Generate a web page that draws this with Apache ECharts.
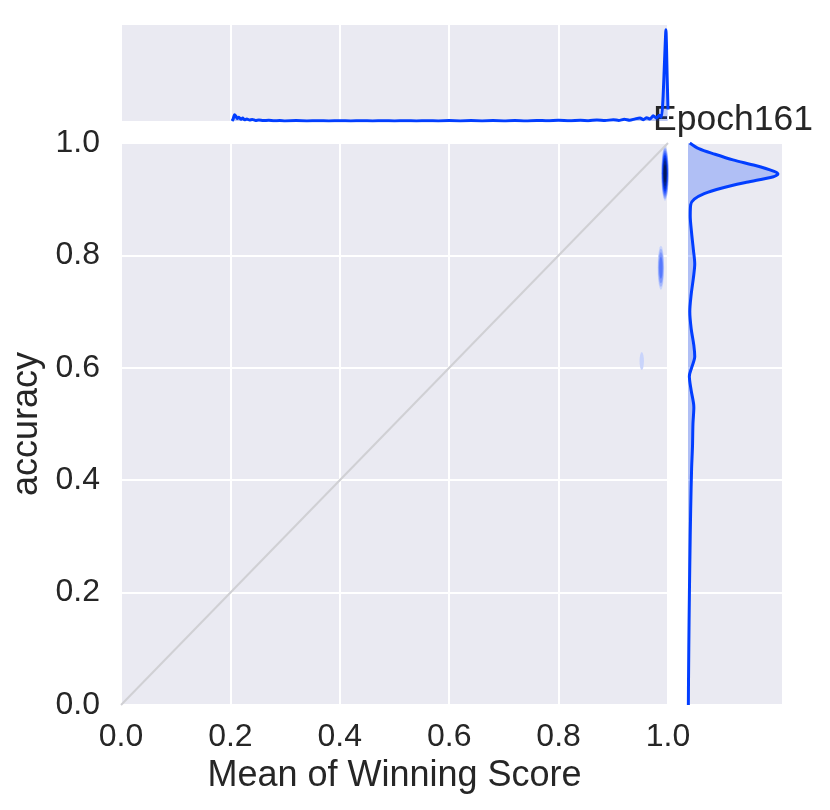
<!DOCTYPE html>
<html>
<head>
<meta charset="utf-8">
<script src="https://cdn.jsdelivr.net/npm/echarts@6/dist/echarts.min.js"></script>
<style>
  html, body { margin: 0; padding: 0; background: #fff; }
  #chart { width: 830px; height: 810px; }
</style>
</head>
<body>
<div id="chart"></div>
<script>
// top marginal: density of mean winning score
const topScore = [0.203, 0.205, 0.2075, 0.21, 0.2125, 0.2155, 0.219, 0.2225, 0.226, 0.23, 0.235, 0.24, 0.246, 0.252,
  0.26, 0.27, 0.28, 0.29, 0.30, 0.32, 0.34, 0.36, 0.38, 0.40, 0.42, 0.44, 0.46, 0.48, 0.50, 0.52, 0.54, 0.56,
  0.58, 0.60, 0.62, 0.64, 0.66, 0.68, 0.70, 0.72, 0.74, 0.76, 0.78, 0.80, 0.82, 0.84, 0.855, 0.87, 0.885,
  0.90, 0.91, 0.92, 0.93, 0.94, 0.949, 0.955, 0.961, 0.967, 0.973, 0.979, 0.984, 0.988, 0.991, 0.9935,
  0.9962, 0.9985, 1.0];
const topDensity = [0, 0.02, 0.065, 0.05, 0.025, 0.04, 0.018, 0.03, 0.013, 0.022, 0.01, 0.016, 0.006, 0.01,
  0.004, 0.007, 0.002, 0.005, 0.001, 0.004, 0.001, 0.003, 0.0, 0.003, 0.0, 0.003, 0.0, 0.003, 0.0, 0.003,
  0.0, 0.003, 0.001, 0.004, 0.001, 0.004, 0.001, 0.004, 0.001, 0.005, 0.001, 0.006, 0.002, 0.007, 0.002, 0.009,
  0.003, 0.011, 0.004, 0.014, 0.006, 0.018, 0.008, 0.022, 0.03, 0.014, 0.035, 0.02, 0.055, 0.03, 0.06, 0.04,
  0.25, 0.6, 0.95, 0.45, 0.12];

// right marginal: density of accuracy
const rightAcc = [1.0, 0.99, 0.98, 0.97, 0.96, 0.95, 0.945, 0.94, 0.93, 0.92, 0.91, 0.90, 0.89, 0.87, 0.84,
  0.81, 0.785, 0.76, 0.73, 0.70, 0.67, 0.64, 0.62, 0.60, 0.585, 0.56, 0.53, 0.50, 0.46, 0.42, 0.35, 0.25,
  0.15, 0.05, 0.0];
const rightDensity = [0.02, 0.12, 0.3, 0.5, 0.75, 0.95, 1.0, 0.95, 0.65, 0.38, 0.18, 0.07, 0.03, 0.025, 0.04,
  0.06, 0.075, 0.06, 0.035, 0.02, 0.035, 0.065, 0.075, 0.04, 0.015, 0.035, 0.065, 0.055, 0.05, 0.04, 0.03,
  0.02, 0.012, 0.006, 0.004];

// joint density blobs (centre, spread, peak)
const blobScore = [0.9945, 0.987, 0.952];
const blobAcc = [0.946, 0.778, 0.612];
const blobSpreadX = [0.0068, 0.006, 0.004];
const blobSpreadY = [0.049, 0.039, 0.016];
const blobPeak = [1.0, 0.5, 0.15];

const diagonal = [[0, 0], [1, 1]];
const axisTicks = [0, 0.2, 0.4, 0.6, 0.8, 1.0];

const FONT = '"Liberation Sans", Arial, sans-serif';
const BLUE = '#023eff';
const levelColors = ['#c9d4fb', '#a3b6fb', '#7d97fc', '#5578fd', '#2f5afe', '#0a3cf8', '#0630c4', '#05248f', '#04185c'];

const chart = echarts.init(document.getElementById('chart'));

const hiddenAxis = (extra) => Object.assign({
  type: 'value',
  axisLine: { show: false },
  axisTick: { show: false },
  axisLabel: { show: false },
  splitLine: { show: false }
}, extra);

const option = {
  animation: false,
  grid: [
    { left: 121, top: 143, width: 547, height: 562, show: true, backgroundColor: '#eaeaf2', borderWidth: 0 },
    { left: 121, top: 25, width: 547, height: 96, show: true, backgroundColor: '#eaeaf2', borderWidth: 0 },
    { left: 688, top: 143, width: 94, height: 562, show: true, backgroundColor: '#eaeaf2', borderWidth: 0 }
  ],
  xAxis: [
    {
      type: 'value', gridIndex: 0, min: axisTicks[0], max: axisTicks[axisTicks.length - 1], interval: 0.2,
      name: 'Mean of Winning Score', nameLocation: 'middle', nameGap: 50,
      nameTextStyle: { color: '#262626', fontSize: 36, fontFamily: FONT },
      axisLine: { show: false }, axisTick: { show: false },
      axisLabel: { color: '#262626', fontSize: 32, fontFamily: FONT, margin: 16, formatter: v => v.toFixed(1) },
      splitLine: { show: true, lineStyle: { color: '#ffffff', width: 2 } }
    },
    hiddenAxis({ gridIndex: 1, min: 0, max: 1, interval: 0.2, splitLine: { show: true, lineStyle: { color: '#ffffff', width: 2 } } }),
    hiddenAxis({ gridIndex: 2, min: 0, max: 1.045 })
  ],
  yAxis: [
    {
      type: 'value', gridIndex: 0, min: axisTicks[0], max: axisTicks[axisTicks.length - 1], interval: 0.2,
      name: 'accuracy', nameLocation: 'middle', nameGap: 70,
      nameTextStyle: { color: '#262626', fontSize: 36, fontFamily: FONT },
      axisLine: { show: false }, axisTick: { show: false },
      axisLabel: { color: '#262626', fontSize: 32, fontFamily: FONT, margin: 21, formatter: v => v.toFixed(1) },
      splitLine: { show: true, lineStyle: { color: '#ffffff', width: 2 } }
    },
    hiddenAxis({ gridIndex: 1, min: 0, max: 1 }),
    hiddenAxis({ gridIndex: 2, min: 0, max: 1, interval: 0.2, splitLine: { show: true, lineStyle: { color: '#ffffff', width: 2 } } })
  ],
  graphic: [{
    type: 'text', x: 733, y: 120,
    style: { text: 'Epoch161', font: '35.5px ' + FONT, fill: '#262626', textAlign: 'center', textVerticalAlign: 'middle' }
  }],
  series: [
    {
      type: 'line', xAxisIndex: 0, yAxisIndex: 0, data: diagonal, showSymbol: false, silent: true,
      lineStyle: { color: '#d0d0d4', width: 2 }
    },
    {
      type: 'custom', xAxisIndex: 0, yAxisIndex: 0, silent: true,
      data: blobScore.map((s, i) => [s, blobAcc[i], blobSpreadX[i], blobSpreadY[i], blobPeak[i]]),
      renderItem: function (params, api) {
        const c = api.coord([api.value(0), api.value(1)]);
        const sz = api.size([api.value(2), api.value(3)]);
        const peak = api.value(4);
        const children = [];
        levelColors.forEach((col, k) => {
          const t = 0.1 * (k + 1);
          if (t >= peak + 1e-9 && k > 0) return;
          const frac = k === 0 ? 1 : Math.sqrt(Math.max(0, 1 - (t - 0.1) / (peak - 0.1)));
          const rx = sz[0] * frac, ry = sz[1] * frac;
          if (ry <= 0) return;
          children.push({
            type: 'circle', x: c[0], y: c[1], scaleX: rx / ry, scaleY: 1,
            shape: { cx: 0, cy: 0, r: ry },
            style: { fill: col }
          });
        });
        return { type: 'group', children: children };
      }
    },
    {
      type: 'line', xAxisIndex: 1, yAxisIndex: 1, showSymbol: false, silent: true, smooth: 0.2,
      data: topScore.map((s, i) => [s, topDensity[i]]),
      lineStyle: { color: BLUE, width: 3 },
      areaStyle: { color: 'rgba(2,62,255,0.25)' }
    },
    {
      type: 'custom', xAxisIndex: 2, yAxisIndex: 2, silent: true,
      data: rightAcc.map((a, i) => [rightDensity[i], a]),
      renderItem: function (params, api) {
        if (params.dataIndex !== 0) return null;
        const pts = rightAcc.map((a, i) => api.coord([rightDensity[i], a]));
        pts.push(api.coord([0, rightAcc[rightAcc.length - 1]]));
        pts.push(api.coord([0, rightAcc[0]]));
        return { type: 'polygon', shape: { points: pts }, style: { fill: 'rgba(2,62,255,0.25)' } };
      }
    },
    {
      type: 'line', xAxisIndex: 2, yAxisIndex: 2, showSymbol: false, silent: true, smooth: 0.3,
      data: rightAcc.map((a, i) => [rightDensity[i], a]),
      lineStyle: { color: BLUE, width: 3 }
    }
  ]
};

chart.setOption(option);
</script>
</body>
</html>
